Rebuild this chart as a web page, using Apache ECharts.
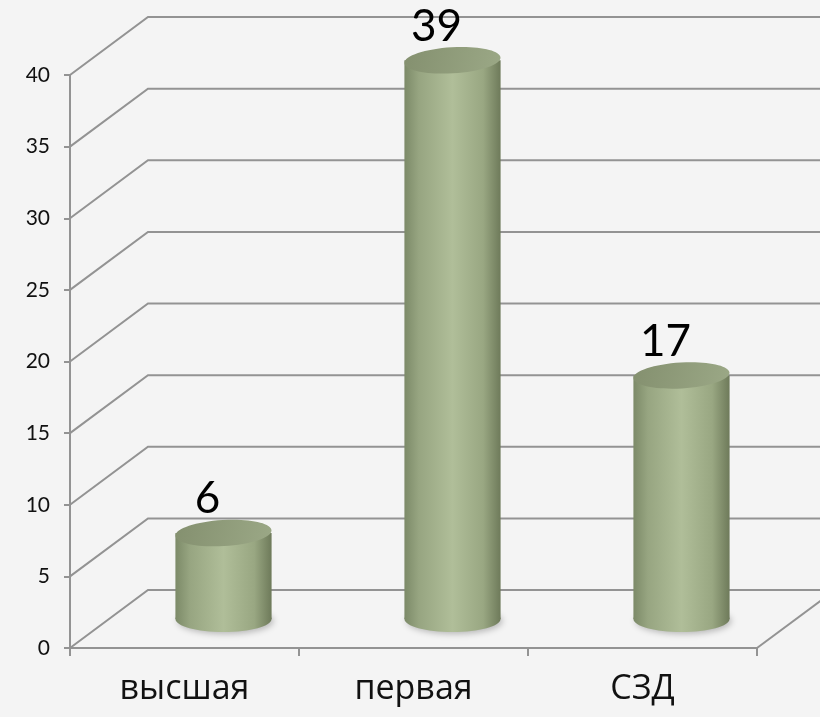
<!DOCTYPE html>
<html>
<head>
<meta charset="utf-8">
<script src="https://cdn.jsdelivr.net/npm/echarts@6/dist/echarts.min.js"></script>
<style>
  html, body { margin: 0; padding: 0; background: #f4f4f4; }
  #chart { width: 820px; height: 717px; }
</style>
</head>
<body>
<div id="chart"></div>
<script>
// данные диаграммы
const categories = ["высшая", "первая", "СЗД"];
const values = [6, 39, 17];
const gridValues = [0, 5, 10, 15, 20, 25, 30, 35, 40];

// смещение задней стенки (псевдо-3D)
const DX = 78;
const DY = -58;
const lineColor = "#939393";

const chart = echarts.init(document.getElementById("chart"));

function renderGrid(params, api) {
  const v = api.value(1);
  const cs = params.coordSys;
  const y = api.coord([0, v])[1];
  const style = { stroke: lineColor, lineWidth: 2, fill: null };
  const children = [
    {
      type: "polyline",
      shape: { points: [[cs.x, y], [cs.x + DX, y + DY], [api.getWidth(), y + DY]] },
      style: style,
    },
  ];
  if (v === 0) {
    const xr = cs.x + cs.width;
    children.push({
      type: "line",
      shape: { x1: xr, y1: y, x2: xr + DX, y2: y + DY },
      style: style,
    });
  }
  return { type: "group", children: children };
}

function renderCylinder(params, api) {
  const idx = api.value(0);
  const v = api.value(1);
  const top = api.coord([idx, v]);
  const base = api.coord([idx, 0]);
  const cx = top[0] + DX / 2;
  const ty = top[1] + DY / 2;
  const by = base[1] + DY / 2;
  const w = api.size([1, 0])[0] * 0.42;
  const rx = w / 2;
  const ry = 13;
  const bodyGrad = new echarts.graphic.LinearGradient(0, 0, 1, 0, [
    { offset: 0, color: "#7c8a68" },
    { offset: 0.15, color: "#97a581" },
    { offset: 0.5, color: "#b0be99" },
    { offset: 0.82, color: "#99a782" },
    { offset: 1, color: "#6e7a5a" },
  ]);
  const topGrad = new echarts.graphic.LinearGradient(0, 0, 1, 1, [
    { offset: 0, color: "#84906f" },
    { offset: 1, color: "#9ba886" },
  ]);
  return {
    type: "group",
    children: [
      {
        type: "ellipse",
        shape: { cx: cx, cy: by, rx: rx, ry: ry },
        style: { fill: bodyGrad, shadowBlur: 6, shadowColor: "rgba(0,0,0,0.25)", shadowOffsetX: 2, shadowOffsetY: 2 },
      },
      {
        type: "rect",
        shape: { x: cx - rx, y: ty, width: w, height: by - ty },
        style: { fill: bodyGrad },
      },
      {
        type: "ellipse",
        shape: { cx: cx, cy: ty, rx: rx, ry: ry },
        rotation: 0.06,
        originX: cx,
        originY: ty,
        style: { fill: topGrad },
      },
      {
        type: "text",
        x: cx - 16,
        y: ty - 12,
        style: {
          text: String(v),
          fontSize: 44,
          fontFamily: "Lato",
          fill: "#000",
          align: "center",
          verticalAlign: "bottom",
        },
      },
    ],
  };
}

const option = {
  backgroundColor: "#f4f4f4",
  animation: false,
  grid: { left: 70, right: 63, top: 75, bottom: 69 },
  xAxis: {
    type: "category",
    data: categories,
    axisLine: { lineStyle: { color: lineColor, width: 2 } },
    axisTick: { show: true, length: 8, lineStyle: { color: lineColor, width: 2 } },
    axisLabel: { fontSize: 34, fontFamily: "Open Sans", color: "#111", margin: 24 },
  },
  yAxis: {
    type: "value",
    min: 0,
    max: 40,
    interval: 5,
    axisLine: { show: true, lineStyle: { color: lineColor, width: 2 } },
    axisTick: { show: true, length: 6, lineStyle: { color: lineColor, width: 2 } },
    axisLabel: { fontSize: 21, fontFamily: "Lato", color: "#111", margin: 20 },
    splitLine: { show: false },
  },
  series: [
    {
      type: "custom",
      z: 1,
      silent: true,
      renderItem: renderGrid,
      data: gridValues.map((v) => [0, v]),
    },
    {
      type: "custom",
      z: 2,
      renderItem: renderCylinder,
      data: values.map((v, i) => [i, v]),
    },
  ],
};

chart.setOption(option);
</script>
</body>
</html>
